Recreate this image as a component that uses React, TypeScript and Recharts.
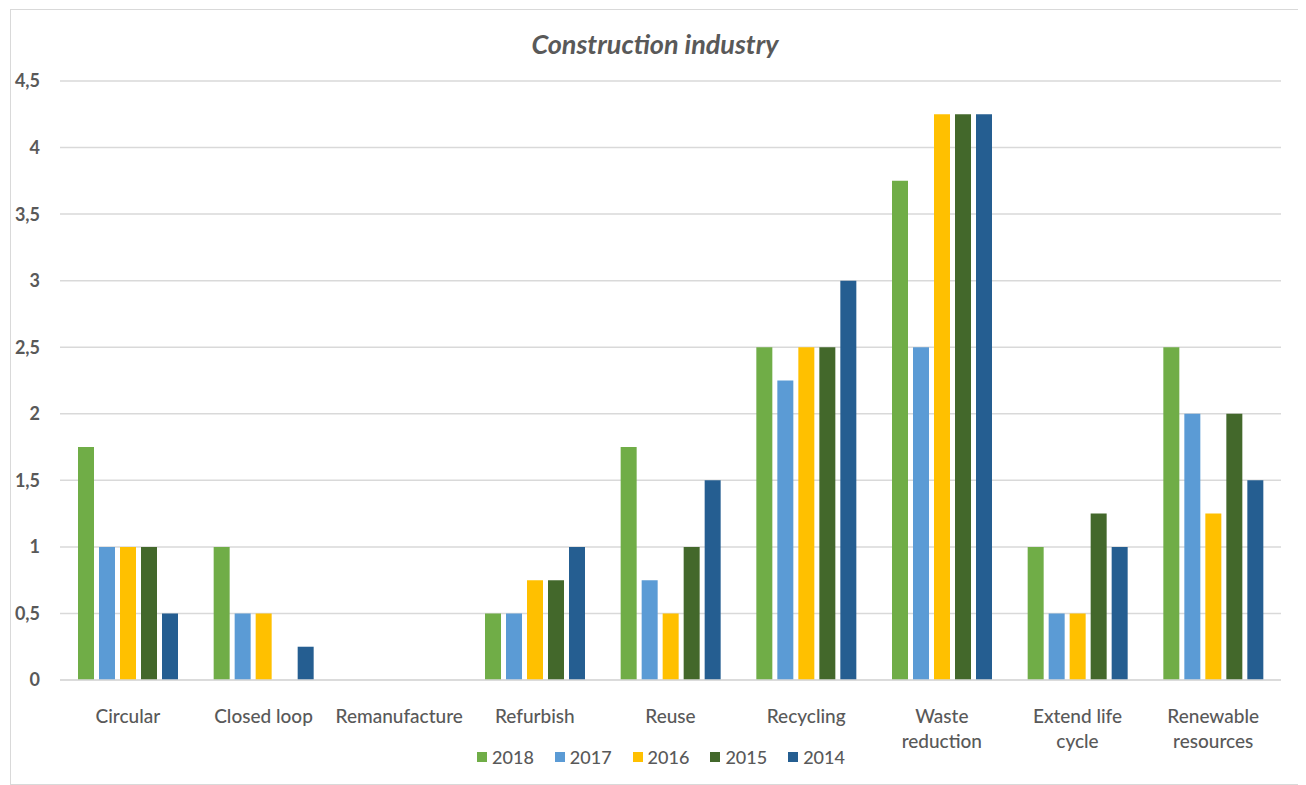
import React from "react";
import { BarChart, Bar, XAxis, YAxis, CartesianGrid, Legend } from "recharts";

const categories = [
  "Circular",
  "Closed loop",
  "Remanufacture",
  "Refurbish",
  "Reuse",
  "Recycling",
  "Waste\nreduction",
  "Extend life\ncycle",
  "Renewable\nresources",
];
const v2018 = [1.75, 1, 0, 0.5, 1.75, 2.5, 3.75, 1, 2.5];
const v2017 = [1, 0.5, 0, 0.5, 0.75, 2.25, 2.5, 0.5, 2];
const v2016 = [1, 0.5, 0, 0.75, 0.5, 2.5, 4.25, 0.5, 1.25];
const v2015 = [1, 0, 0, 0.75, 1, 2.5, 4.25, 1.25, 2];
const v2014 = [0.5, 0.25, 0, 1, 1.5, 3, 4.25, 1, 1.5];
const yTicks = [0, 0.5, 1, 1.5, 2, 2.5, 3, 3.5, 4, 4.5];
const seriesNames = ["2018", "2017", "2016", "2015", "2014"];
const seriesColors = ["#70AD47", "#5B9BD5", "#FFC000", "#43682B", "#255E91"];
const title = "Construction industry";

const data = categories.map((c, i) => ({
  category: c,
  "2018": v2018[i],
  "2017": v2017[i],
  "2016": v2016[i],
  "2015": v2015[i],
  "2014": v2014[i],
}));

const FONT = "Lato, 'Open Sans', sans-serif";
const TEXT = "#595959";

const XTick = (props: any) => {
  const { x, y, payload } = props;
  const lines = String(payload.value).split("\n");
  return (
    <g transform={`translate(${x},${y})`}>
      {lines.map((l: string, i: number) => (
        <text
          key={i}
          x={0}
          y={35 + i * 25}
          textAnchor="middle"
          fill={TEXT}
          fontFamily={FONT}
          fontSize={19}
          fontWeight={500}
        >
          {l}
        </text>
      ))}
    </g>
  );
};

const LegendContent = () => (
  <div
    style={{
      display: "flex",
      justifyContent: "center",
      paddingLeft: 12,
      fontFamily: FONT,
      fontSize: 18,
      fontWeight: 500,
      color: TEXT,
    }}
  >
    {seriesNames.map((n, i) => (
      <div key={n} style={{ display: "flex", alignItems: "center", marginRight: i < 4 ? 21 : 0 }}>
        <span
          style={{
            display: "inline-block",
            width: 10,
            height: 10,
            background: seriesColors[i],
            marginRight: 5,
          }}
        />
        <span>{n}</span>
      </div>
    ))}
  </div>
);

export default function App() {
  return (
    <div
      style={{
        position: "relative",
        marginLeft: 2,
        marginTop: 1,
        width: 1288,
        height: 774,
        border: "1px solid #d9d9d9",
        background: "#fff",
      }}
    >
      <div
        style={{
          position: "absolute",
          top: 17,
          left: 0,
          width: 1288,
          textAlign: "center",
          fontFamily: FONT,
          fontStyle: "italic",
          fontWeight: 700,
          fontSize: 27,
          color: TEXT,
        }}
      >
        {title}
      </div>
      <BarChart
        width={1288}
        height={774}
        data={data}
        margin={{ top: 71, right: 18, bottom: 44, left: 9 }}
        barCategoryGap={18}
        barGap={5}
      >
        <CartesianGrid vertical={false} stroke="#d9d9d9" strokeWidth={1.5} />
        <XAxis
          dataKey="category"
          height={60}
          axisLine={{ stroke: "#d9d9d9", strokeWidth: 1.5 }}
          tickLine={false}
          interval={0}
          tick={<XTick />}
        />
        <YAxis
          width={40}
          domain={[0, 4.5]}
          ticks={yTicks}
          axisLine={false}
          tickLine={false}
          tickMargin={14}
          tickFormatter={(v: number) => String(v).replace(".", ",")}
          tick={{ fill: TEXT, fontFamily: FONT, fontSize: 18, fontWeight: 700 }}
        />
        <Legend
          layout="horizontal"
          verticalAlign="middle"
          align="center"
          wrapperStyle={{ top: 736, left: 0, width: 1288 }}
          content={<LegendContent />}
        />
        {seriesNames.map((n, i) => (
          <Bar key={n} dataKey={n} fill={seriesColors[i]} isAnimationActive={false} />
        ))}
      </BarChart>
    </div>
  );
}
